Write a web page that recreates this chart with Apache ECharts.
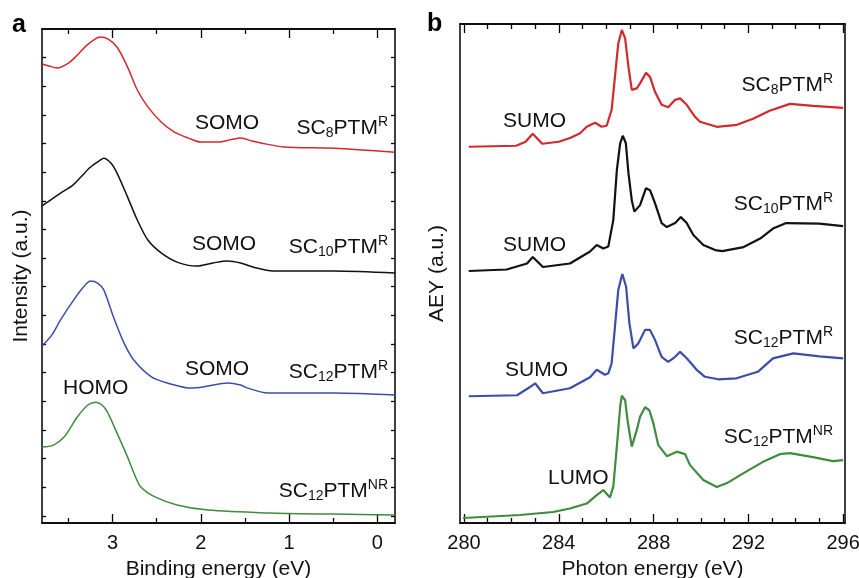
<!DOCTYPE html>
<html>
<head>
<meta charset="utf-8">
<script src="https://cdn.jsdelivr.net/npm/echarts@6/dist/echarts.min.js"></script>
<style>
  html, body { margin: 0; padding: 0; background: #fff; }
  #chart { width: 859px; height: 578px; }
</style>
</head>
<body>
<div id="chart"></div>
<script>
// panel a: UPS, binding energy (eV) -> intensity (curves offset, a.u.)
const upsSC8 = [[3.8,15.78],[3.72,15.71],[3.63,15.64],[3.5,15.81],[3.4,16.09],[3.3,16.41],[3.2,16.65],[3.14,16.72],[3.05,16.65],[2.95,16.37],[2.83,15.67],[2.72,14.87],[2.6,14.28],[2.45,13.75],[2.3,13.4],[2.14,13.19],[2.0,13.05],[1.81,13.05],[1.65,13.14],[1.55,13.19],[1.42,13.09],[1.32,13.02],[1.06,12.88],[0.49,12.84],[-0.2,12.7]];
const upsSC10 = [[3.8,10.82],[3.59,11.27],[3.45,11.55],[3.36,11.83],[3.25,12.18],[3.14,12.42],[3.1,12.49],[3.02,12.32],[2.95,11.97],[2.83,11.13],[2.72,10.33],[2.6,9.63],[2.45,9.18],[2.27,8.86],[2.05,8.72],[1.86,8.83],[1.7,8.9],[1.55,8.83],[1.41,8.69],[1.18,8.55],[0.49,8.55],[-0.2,8.48]];
const upsSC12 = [[3.8,5.93],[3.69,6.31],[3.59,6.84],[3.44,7.54],[3.33,7.99],[3.25,8.2],[3.17,8.13],[3.1,7.89],[2.99,6.94],[2.87,6.03],[2.76,5.44],[2.56,4.85],[2.38,4.64],[2.11,4.46],[1.92,4.53],[1.7,4.64],[1.55,4.57],[1.47,4.46],[1.24,4.29],[0.49,4.29],[-0.2,4.22]];
const upsSC12NR = [[3.8,2.4],[3.67,2.47],[3.55,2.75],[3.4,3.45],[3.28,3.87],[3.19,3.97],[3.12,3.87],[3.06,3.63],[2.95,2.89],[2.83,2.05],[2.75,1.43],[2.68,1.01],[2.52,0.66],[2.27,0.38],[1.92,0.2],[1.24,0.1],[0.5,0.06],[-0.2,0.03]];

// panel b: NEXAFS, photon energy (eV) -> AEY (offset, a.u.)
const aeySC8 = [[280.2,75.4],[282.2,75.6],[282.6,76.4],[282.9,78],[283.3,76],[284.0,76.4],[284.5,77.2],[284.9,78.1],[285.18,79.4],[285.53,80.2],[285.81,79.4],[286.02,79.6],[286.23,82.8],[286.37,89.4],[286.51,96.1],[286.66,98.8],[286.8,97.1],[286.94,91.4],[287.08,86.8],[287.29,87.1],[287.43,88.1],[287.68,90.2],[287.85,89.4],[288.06,86.4],[288.34,83.8],[288.62,83.3],[288.91,84.8],[289.12,85.1],[289.4,83.8],[289.75,81.4],[289.96,80.4],[290.67,79.4],[291.52,79.8],[292.2,81],[292.9,82.6],[293.76,84],[294.73,83.6],[296,83.2]];
const aeySC10 = [[280.2,50.5],[281.8,50.8],[282.66,52],[282.9,53.3],[283.33,51.3],[284.47,52],[285.32,54.4],[285.6,55.7],[285.88,55.0],[286.09,55.4],[286.3,60.7],[286.45,70.7],[286.59,76.1],[286.7,77.6],[286.83,76.1],[286.94,70.1],[287.08,64.7],[287.19,62.4],[287.43,63.7],[287.68,67.1],[287.85,66.7],[288.06,64.1],[288.34,60.1],[288.56,59.3],[288.91,60.1],[289.15,61.3],[289.4,60.1],[289.68,57.7],[290.1,55.7],[290.6,54.7],[290.9,54.5],[291.8,55.3],[292.5,57],[293.04,59],[293.6,60.1],[295,60],[296,59.5]];
const aeySC12 = [[280.2,25.4],[282.24,25.6],[282.8,27.3],[283.0,28],[283.33,26],[284.47,27],[285.32,29.2],[285.6,30.7],[285.95,29.7],[286.09,30.0],[286.23,32],[286.37,39.3],[286.51,46.7],[286.68,49.9],[286.84,47.4],[286.98,40.0],[287.15,35.0],[287.36,36.0],[287.64,38.7],[287.85,38.7],[288.06,36.7],[288.34,33.3],[288.62,32.3],[288.91,33.3],[289.12,34.3],[289.4,33.0],[289.82,30.7],[290.17,29.3],[290.73,28.8],[291.5,29],[292.4,30.3],[293.04,33],[293.9,34],[295,33.4],[296,33]];
const aeySC12NR = [[279.96,1],[282.36,1.6],[283.76,2.2],[284.47,2.9],[285.18,3.9],[285.6,5.6],[285.88,6.6],[286.16,5.1],[286.3,7.3],[286.45,15.3],[286.59,23.3],[286.66,25.5],[286.8,24.6],[286.9,20.6],[287.08,15.3],[287.29,18.6],[287.43,21.3],[287.64,23.2],[287.82,22.6],[287.99,20.0],[288.2,15.6],[288.56,13.4],[288.98,14.3],[289.33,13.8],[289.54,11.6],[290.1,8.6],[290.67,7.2],[291.1,8],[291.8,10],[292.6,12.2],[293.33,13.8],[293.76,14],[294.73,13.2],[295.57,12.4],[296,12.6]];

// tick values
const bindingTicks = [0, 1, 2, 3];
const bindingMinorTicks = [0.5, 1.5, 2.5, 3.5];
const photonTicks = [280, 284, 288, 292, 296];
const photonMinorTicks = [281, 282, 283, 285, 286, 287, 289, 290, 291, 293, 294, 295];
const intensityTicks = [0, 1, 2, 3, 4, 5, 6, 7, 8, 9, 10, 11, 12, 13, 14, 15, 16];

const FONT = '"Liberation Sans", Arial, Helvetica, sans-serif';
const RED = '#d3282c', BLACK = '#111111', BLUE = '#3a4ea8', GREEN = '#3e8c3e';

const chart = echarts.init(document.getElementById('chart'));

function xAxisOf(grid, pos, min, max, inverse, ticks, len, withLabel, name) {
  return {
    gridIndex: grid, type: 'value', position: pos, min: min, max: max, inverse: inverse,
    splitLine: { show: false },
    axisLine: { show: true, onZero: false, lineStyle: { color: '#000', width: 1.5 } },
    axisTick: { show: true, inside: true, length: len, customValues: ticks, lineStyle: { color: '#000', width: 1.3 } },
    axisLabel: withLabel
      ? { show: true, customValues: ticks, margin: 10, fontSize: 20, color: '#111', fontFamily: FONT }
      : { show: false },
    name: name || '',
    nameLocation: 'middle',
    nameGap: 36,
    nameTextStyle: { fontSize: 21, color: '#111', fontFamily: FONT }
  };
}

function yAxisOf(grid, pos, min, max, ticks, name, gap) {
  return {
    gridIndex: grid, type: 'value', position: pos, min: min, max: max,
    splitLine: { show: false },
    axisLine: { show: true, onZero: false, lineStyle: { color: '#000', width: 1.5 } },
    axisTick: ticks
      ? { show: true, inside: true, length: 4, customValues: ticks, lineStyle: { color: '#000', width: 1.3 } }
      : { show: false },
    axisLabel: { show: false },
    name: name || '',
    nameLocation: 'middle',
    nameRotate: 90,
    nameGap: gap || 10,
    nameTextStyle: { fontSize: 21, color: '#111', fontFamily: FONT }
  };
}

function line(data, color, xi, yi, width, smooth) {
  return {
    type: 'line', data: data, xAxisIndex: xi, yAxisIndex: yi,
    showSymbol: false, smooth: smooth,
    lineStyle: { color: color, width: width }, itemStyle: { color: color },
    silent: true
  };
}

// text with sub- and superscripts
const rich = {
  m: { font: '21px ' + FONT, fill: '#111', lineHeight: 25 },
  s: { font: '14px ' + FONT, fill: '#111', verticalAlign: 'bottom', lineHeight: 15 },
  p: { font: '14px ' + FONT, fill: '#111', verticalAlign: 'top', lineHeight: 15 }
};
function note(x, y, align, main, sub, sup) {
  let t = '{m|' + main + '}';
  if (sub) t = '{m|SC}{s|' + sub + '}{m|PTM}{p|' + sup + '}';
  return {
    type: 'text', x: x, y: y, silent: true,
    style: { text: t, rich: rich, font: '21px ' + FONT, fill: '#111', textAlign: align, textVerticalAlign: 'middle' }
  };
}

const option = {
  animation: false,
  backgroundColor: '#fff',
  grid: [
    { left: 42, right: 464, top: 29, bottom: 55, outerBoundsMode: 'none', containLabel: false },
    { left: 460, right: 14, top: 24, bottom: 55, outerBoundsMode: 'none', containLabel: false }
  ],
  xAxis: [
    xAxisOf(0, 'bottom', -0.2, 3.8, true, bindingTicks, 9, true, 'Binding energy (eV)'),
    xAxisOf(0, 'bottom', -0.2, 3.8, true, bindingMinorTicks, 5, false),
    xAxisOf(0, 'top', -0.2, 3.8, true, bindingTicks, 9, false),
    xAxisOf(0, 'top', -0.2, 3.8, true, bindingMinorTicks, 5, false),
    xAxisOf(1, 'bottom', 279.83, 296.08, false, photonTicks, 9, true, 'Photon energy (eV)'),
    xAxisOf(1, 'bottom', 279.83, 296.08, false, photonMinorTicks, 5, false),
    xAxisOf(1, 'top', 279.83, 296.08, false, photonTicks, 9, false),
    xAxisOf(1, 'top', 279.83, 296.08, false, photonMinorTicks, 5, false)
  ],
  yAxis: [
    yAxisOf(0, 'left', -0.25, 17, intensityTicks, 'Intensity (a.u.)', 10),
    yAxisOf(0, 'right', -0.25, 17, intensityTicks),
    yAxisOf(1, 'left', 0, 100, null, 'AEY (a.u.)', 12),
    yAxisOf(1, 'right', 0, 100, null)
  ],
  series: [
    line(upsSC8, RED, 0, 0, 1.5, 0.3),
    line(upsSC10, BLACK, 0, 0, 1.5, 0.3),
    line(upsSC12, BLUE, 0, 0, 1.5, 0.3),
    line(upsSC12NR, GREEN, 0, 0, 1.5, 0.3),
    line(aeySC8, RED, 4, 2, 2.2, false),
    line(aeySC10, BLACK, 4, 2, 2.2, false),
    line(aeySC12, BLUE, 4, 2, 2.2, false),
    line(aeySC12NR, GREEN, 4, 2, 2.2, false)
  ],
  graphic: [
    { type: 'text', x: 12, y: 25, style: { text: 'a', font: 'bold 25px ' + FONT, fill: '#000', textVerticalAlign: 'middle' } },
    { type: 'text', x: 427, y: 24, style: { text: 'b', font: 'bold 25px ' + FONT, fill: '#000', textVerticalAlign: 'middle' } },
    note(195, 123, 'left', 'SOMO'),
    note(388, 128, 'right', '', '8', 'R'),
    note(192, 244, 'left', 'SOMO'),
    note(388, 247, 'right', '', '10', 'R'),
    note(185, 369, 'left', 'SOMO'),
    note(388, 372, 'right', '', '12', 'R'),
    note(63, 388, 'left', 'HOMO'),
    note(388, 491, 'right', '', '12', 'NR'),
    note(503, 121, 'left', 'SUMO'),
    note(833, 85, 'right', '', '8', 'R'),
    note(503, 245, 'left', 'SUMO'),
    note(833, 204, 'right', '', '10', 'R'),
    note(505, 370, 'left', 'SUMO'),
    note(833, 338, 'right', '', '12', 'R'),
    note(548, 478, 'left', 'LUMO'),
    note(833, 437, 'right', '', '12', 'NR')
  ]
};

chart.setOption(option);
</script>
</body>
</html>
